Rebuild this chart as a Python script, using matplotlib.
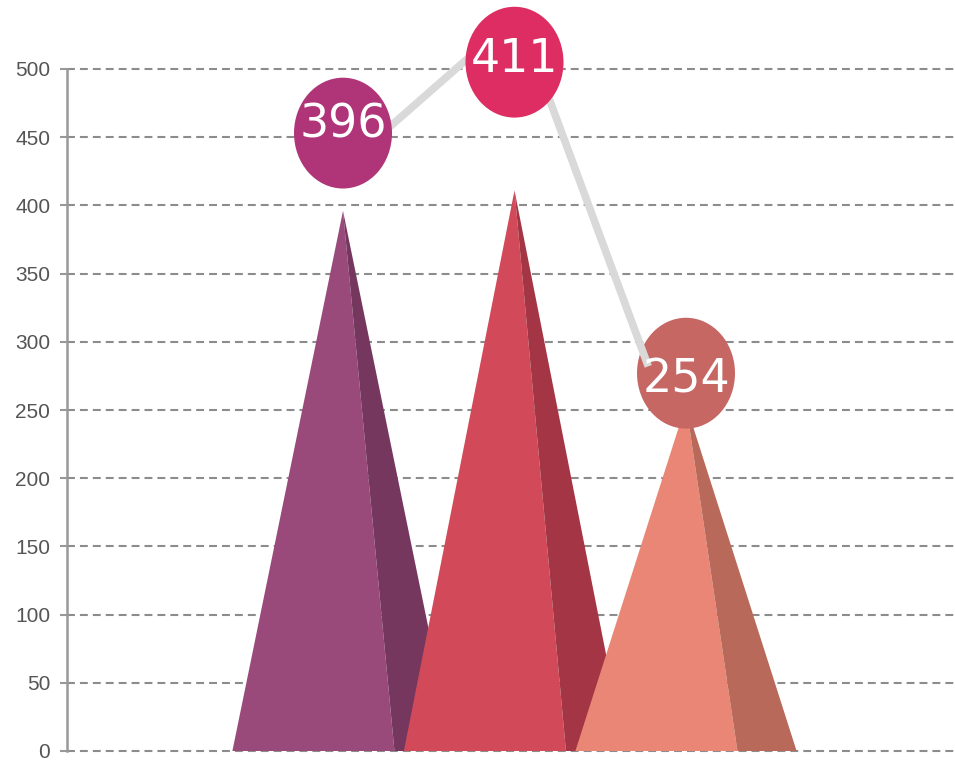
import numpy as np
import matplotlib
matplotlib.use("Agg")
import matplotlib.pyplot as plt
from matplotlib.patches import Polygon, Ellipse

# data
values = [396, 411, 254]
bubble_y = [453, 505, 277]          # label bubble centres (value units)
label_y = [459, 507, 272]           # text inside the bubbles
trend_x = [1.24, 2.02, 2.78]        # grey connector line
trend_y = [454, 540, 282]
yticks = list(range(0, 501, 50))

front_colors = ["#994a7b", "#d24a59", "#e98675"]
side_colors = ["#76375f", "#a33544", "#b8695a"]
bubble_colors = ["#b03578", "#dd2d62", "#c66764"]

W, H = 955, 760
fig = plt.figure(figsize=(W / 100, H / 100), dpi=100)
ax = fig.add_axes([67 / W, 9 / H, (W - 67) / W, 682 / H])
ax.set_xlim(1 - 276 / 171.5, 1 + (W - 343) / 171.5)
ax.set_ylim(0, 500)

ax.set_yticks(yticks)
ax.set_xticks([])
ax.tick_params(axis="y", length=5, width=1.5, color="#999999", pad=7,
               labelsize=15, labelcolor="#555555")
for lab in ax.get_yticklabels():
    lab.set_fontfamily("Liberation Sans")
for s in ["top", "right", "bottom"]:
    ax.spines[s].set_visible(False)
ax.spines["left"].set_color("#999999")
ax.spines["left"].set_linewidth(1.8)

for t in yticks:
    ax.axhline(t, color="#8c8c8c", lw=1.5, ls=(0, (3.8, 2.4)), zorder=1, clip_on=False)

half = 0.645
split = 0.30
for i, v in enumerate(values):
    x = i + 1
    ax.add_patch(Polygon([(x - half, 0), (x + split, 0), (x, v)], closed=True,
                         facecolor=front_colors[i], edgecolor="none", zorder=2 + i))
    ax.add_patch(Polygon([(x + split, 0), (x + half, 0), (x, v)], closed=True,
                         facecolor=side_colors[i], edgecolor="none", zorder=2 + i))

ew = 98 / 171.5
eh = 111 / 1.366
bubble_z = [8, 8, 6]
for i, v in enumerate(values):
    x = i + 1
    ax.add_patch(Ellipse((x, bubble_y[i]), ew, eh, facecolor=bubble_colors[i],
                         edgecolor="none", zorder=bubble_z[i], clip_on=False))
    ax.text(x, label_y[i], str(v), ha="center", va="center", color="white",
            fontsize=33, fontfamily="DejaVu Sans", zorder=9, clip_on=False)

ax.plot(trend_x, trend_y, color="#d9d9d9", lw=5.5, solid_capstyle="butt",
        solid_joinstyle="miter", zorder=7, clip_on=False)

fig.savefig("out.png", dpi=100)
